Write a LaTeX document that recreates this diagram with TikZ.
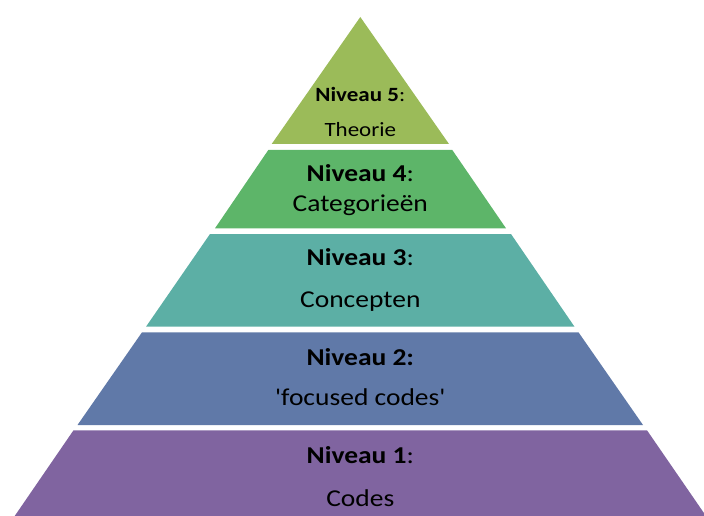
\documentclass[tikz,border=0pt]{standalone}
\usepackage{fontspec}
\setmainfont{Carlito}
\usepackage{tikz}

\definecolor{lvlone}{RGB}{128,100,160}
\definecolor{lvltwo}{RGB}{96,121,168}
\definecolor{lvlthree}{RGB}{92,175,165}
\definecolor{lvlfour}{RGB}{93,181,105}
\definecolor{lvlfive}{RGB}{155,187,89}

\begin{document}
\begin{tikzpicture}[x=1pt, y=-1pt,
  lbl/.style={anchor=base, inner sep=0pt, yscale=0.88, font=\fontsize{27.5}{30}\selectfont},
  lbltop/.style={lbl, font=\fontsize{23}{26}\selectfont}]
\useasboundingbox (0,0) rectangle (704,516);
% the five bands of the pyramid, top to bottom
\fill[lvlfive]  (360.3,17) -- (449,144) -- (271.7,144) -- cycle;
\fill[lvlfour]  (268.3,150) -- (452.3,150) -- (506,228.3) -- (215,228.3) -- cycle;
\fill[lvlthree] (210,234) -- (511,234) -- (574.5,326.7) -- (146,326.7) -- cycle;
\fill[lvltwo]   (142,332.3) -- (578.5,332.3) -- (643,425) -- (77.5,425) -- cycle;
\fill[lvlone]   (73.5,430.3) -- (647,430.3) -- (706,516) -- (14.7,516) -- cycle;
% labels
\node[lbltop] (n5) at (360.3,102) {\textbf{Niveau 5}:};
\node[lbltop] (t5) at (360.3,137) {Theorie};
\node[lbl] (n4) at (360.3,181) {\textbf{Niveau 4}:};
\node[lbl] (t4) at (360.3,211) {Categorieën};
\node[lbl] (n3) at (360.3,265) {\textbf{Niveau 3}:};
\node[lbl] (t3) at (360.3,307) {Concepten};
\node[lbl] (n2) at (360.3,365) {\textbf{Niveau 2:}};
\node[lbl] (t2) at (360.3,405) {\textquotesingle focused codes\textquotesingle};
\node[lbl] (n1) at (360.3,463) {\textbf{Niveau 1}:};
\node[lbl] (t1) at (360.3,506) {Codes};
\end{tikzpicture}
\end{document}
